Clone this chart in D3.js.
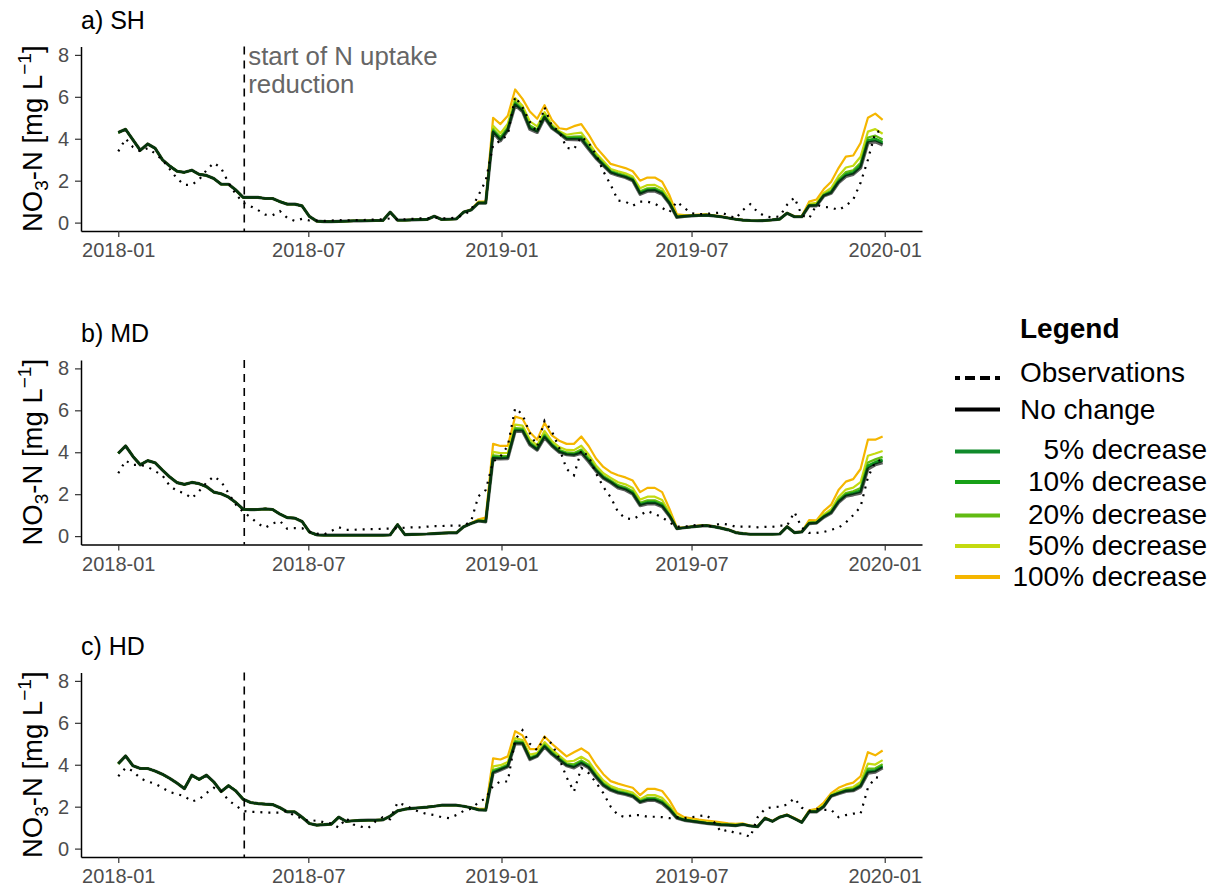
<!DOCTYPE html>
<html><head><meta charset="utf-8">
<script src="https://cdn.jsdelivr.net/npm/d3@7"></script>
<style>body{margin:0;background:#fff} text{font-family:"Liberation Sans",Arial,sans-serif}</style>
</head><body><svg id="chart" width="1212" height="890"></svg>
<script>
// ---- categories / ticks ----
const startDate = new Date(2018, 0, 1);
const weekCount = 105;
const dates = d3.range(weekCount).map(i => d3.timeDay.offset(startDate, 7 * i));
const xTickDates = ["2018-01-01", "2018-07-01", "2019-01-01", "2019-07-01", "2020-01-01"];
const yTickValues = [0, 2, 4, 6, 8];
const reductionStart = "2018-05-01";
const legendLabels = ["Observations", "No change", "5% decrease", "10% decrease", "20% decrease", "50% decrease", "100% decrease"];
const scenarioColors = ["#000000", "#108a2b", "#17a017", "#62bb13", "#c4da10", "#f5b600"];
const panelTitles = ["a) SH", "b) MD", "c) HD"];

// ---- a) SH ----
const shObs = [3.4,4.0,3.6,3.4,3.55,3.3,3.0,2.55,2.1,1.8,1.8,2.05,2.5,2.85,2.6,1.9,1.35,0.95,0.78,0.6,0.38,0.35,0.55,0.22,0.08,0.18,0.1,0.1,0.08,0.1,0.12,0.1,0.12,0.12,0.13,0.15,0.15,0.2,0.15,0.15,0.18,0.2,0.2,0.25,0.2,0.2,0.25,0.35,0.6,1.3,2.0,3.7,3.9,4.2,6.0,5.5,4.8,4.3,5.5,4.6,4.35,3.57,3.5,4.1,3.8,3.25,2.45,1.8,1.05,1.0,0.8,1.0,1.0,0.9,0.7,0.5,1.0,0.7,0.45,0.4,0.42,0.45,0.48,0.35,0.2,0.6,0.88,0.5,0.3,0.25,0.3,0.85,1.2,0.35,0.2,0.85,0.75,0.72,0.6,0.8,1.1,1.9,3.0,4.3,4.4];
const shNoChange = [4.3,4.45,3.95,3.45,3.75,3.55,3.0,2.7,2.45,2.4,2.5,2.3,2.25,2.1,1.83,1.83,1.55,1.2,1.2,1.2,1.15,1.15,1.0,0.88,0.88,0.8,0.3,0.07,0.05,0.05,0.06,0.07,0.08,0.08,0.09,0.1,0.1,0.5,0.12,0.12,0.13,0.14,0.15,0.3,0.15,0.16,0.18,0.5,0.6,0.93,0.93,4.3,3.9,4.4,5.6,5.3,4.45,4.3,5.0,4.5,4.25,3.97,3.96,3.95,3.5,3.07,2.72,2.37,2.25,2.15,2.0,1.35,1.5,1.51,1.35,0.9,0.25,0.3,0.32,0.34,0.36,0.32,0.28,0.22,0.16,0.12,0.1,0.09,0.1,0.13,0.17,0.45,0.28,0.28,0.8,0.8,1.27,1.4,1.9,2.2,2.3,2.6,3.8,3.85,3.7];
const shDec5 = [4.3,4.45,3.95,3.45,3.75,3.55,3.0,2.7,2.45,2.4,2.5,2.3,2.25,2.1,1.83,1.83,1.55,1.2,1.2,1.2,1.15,1.15,1.0,0.88,0.88,0.8,0.3,0.07,0.05,0.05,0.06,0.07,0.08,0.08,0.09,0.1,0.1,0.5,0.12,0.12,0.13,0.14,0.15,0.3,0.15,0.16,0.18,0.5,0.6,0.93,0.93,4.34,3.95,4.44,5.65,5.34,4.5,4.34,5.04,4.52,4.27,4.0,4.0,4.0,3.54,3.1,2.75,2.4,2.28,2.18,2.03,1.39,1.54,1.55,1.39,0.92,0.26,0.3,0.32,0.34,0.36,0.32,0.28,0.22,0.16,0.12,0.1,0.09,0.1,0.13,0.17,0.45,0.28,0.28,0.81,0.82,1.29,1.43,1.94,2.26,2.35,2.67,3.87,3.93,3.77];
const shDec10 = [4.3,4.45,3.95,3.45,3.75,3.55,3.0,2.7,2.45,2.4,2.5,2.3,2.25,2.1,1.83,1.83,1.55,1.2,1.2,1.2,1.15,1.15,1.0,0.88,0.88,0.8,0.3,0.07,0.05,0.05,0.06,0.07,0.08,0.08,0.09,0.1,0.1,0.5,0.12,0.12,0.13,0.14,0.15,0.3,0.15,0.16,0.18,0.5,0.6,0.94,0.94,4.38,4.0,4.48,5.69,5.37,4.55,4.38,5.07,4.55,4.28,4.03,4.04,4.04,3.58,3.13,2.78,2.42,2.3,2.2,2.05,1.43,1.58,1.59,1.42,0.95,0.27,0.31,0.32,0.34,0.36,0.32,0.28,0.22,0.16,0.12,0.1,0.09,0.1,0.13,0.17,0.45,0.28,0.28,0.82,0.84,1.31,1.47,1.98,2.31,2.41,2.74,3.94,4.01,3.84];
const shDec20 = [4.3,4.45,3.95,3.45,3.75,3.55,3.0,2.7,2.45,2.4,2.5,2.3,2.25,2.1,1.83,1.83,1.55,1.2,1.2,1.2,1.15,1.15,1.0,0.88,0.88,0.8,0.3,0.07,0.05,0.05,0.06,0.07,0.08,0.08,0.09,0.1,0.1,0.5,0.12,0.12,0.13,0.14,0.15,0.3,0.15,0.16,0.18,0.5,0.6,0.95,0.95,4.45,4.08,4.55,5.77,5.43,4.64,4.44,5.13,4.59,4.31,4.08,4.1,4.12,3.65,3.19,2.83,2.46,2.35,2.25,2.1,1.49,1.64,1.65,1.48,0.99,0.28,0.31,0.33,0.35,0.37,0.33,0.28,0.22,0.16,0.12,0.1,0.09,0.1,0.13,0.17,0.45,0.28,0.28,0.84,0.87,1.34,1.52,2.05,2.41,2.5,2.86,4.06,4.15,3.96];
const shDec50 = [4.3,4.45,3.95,3.45,3.75,3.55,3.0,2.7,2.45,2.4,2.5,2.3,2.25,2.1,1.83,1.83,1.55,1.2,1.2,1.2,1.15,1.15,1.0,0.88,0.88,0.8,0.3,0.07,0.05,0.05,0.06,0.07,0.08,0.08,0.09,0.1,0.1,0.5,0.12,0.12,0.13,0.14,0.15,0.3,0.15,0.16,0.18,0.5,0.61,0.96,0.96,4.62,4.26,4.72,5.94,5.57,4.83,4.59,5.27,4.68,4.36,4.19,4.25,4.29,3.82,3.31,2.94,2.56,2.45,2.35,2.2,1.64,1.79,1.8,1.62,1.08,0.32,0.33,0.34,0.36,0.38,0.33,0.29,0.22,0.16,0.12,0.1,0.09,0.1,0.13,0.17,0.45,0.29,0.29,0.89,0.94,1.42,1.65,2.22,2.63,2.71,3.14,4.34,4.46,4.24];
const shDec100 = [4.3,4.45,3.95,3.45,3.75,3.55,3.0,2.7,2.45,2.4,2.5,2.3,2.25,2.1,1.83,1.83,1.55,1.2,1.2,1.2,1.15,1.15,1.0,0.88,0.88,0.8,0.3,0.07,0.05,0.05,0.06,0.07,0.08,0.08,0.09,0.1,0.1,0.5,0.12,0.12,0.13,0.14,0.15,0.3,0.15,0.16,0.18,0.5,0.62,1.0,1.0,5.0,4.7,5.1,6.35,5.9,5.3,4.95,5.6,4.9,4.5,4.45,4.6,4.7,4.2,3.6,3.2,2.8,2.7,2.6,2.45,2.0,2.15,2.15,1.95,1.3,0.4,0.36,0.36,0.38,0.4,0.35,0.3,0.23,0.17,0.13,0.1,0.09,0.1,0.13,0.18,0.46,0.3,0.3,1.0,1.1,1.6,1.95,2.6,3.15,3.2,3.8,5.0,5.2,4.9];

// ---- b) MD ----
const mdObs = [3.0,3.6,3.4,3.4,3.3,3.1,2.9,2.4,2.15,2.05,1.8,2.15,2.55,2.85,2.6,2.05,1.5,1.15,0.9,0.6,0.4,0.6,0.72,0.35,0.38,0.38,0.22,0.12,0.08,0.25,0.42,0.3,0.3,0.32,0.33,0.33,0.35,0.36,0.38,0.4,0.42,0.42,0.45,0.48,0.48,0.5,0.5,0.5,0.7,1.9,2.2,3.55,3.8,4.3,6.1,5.8,4.9,4.3,5.5,5.0,4.2,3.2,2.9,4.1,3.8,3.0,2.35,1.85,1.15,0.85,0.8,1.0,1.2,1.05,0.9,0.65,0.45,0.45,0.5,0.55,0.45,0.5,0.6,0.55,0.45,0.45,0.45,0.42,0.44,0.44,0.5,0.5,1.15,0.4,0.15,0.15,0.2,0.3,0.4,0.65,1.0,1.4,2.8,3.55,3.65];
const mdNoChange = [3.95,4.3,3.8,3.4,3.6,3.5,3.15,2.82,2.55,2.47,2.56,2.5,2.36,2.1,2.02,1.86,1.6,1.28,1.26,1.27,1.3,1.27,1.05,0.88,0.86,0.7,0.2,0.06,0.05,0.05,0.05,0.05,0.05,0.05,0.05,0.05,0.05,0.06,0.55,0.07,0.08,0.09,0.1,0.12,0.14,0.15,0.15,0.45,0.6,0.72,0.68,3.7,3.68,3.7,5.0,5.0,4.35,4.1,4.7,4.3,4.0,3.88,3.85,3.95,3.55,3.1,2.75,2.55,2.3,2.2,2.0,1.45,1.54,1.54,1.4,0.95,0.36,0.4,0.44,0.48,0.5,0.45,0.38,0.3,0.17,0.12,0.09,0.09,0.09,0.09,0.1,0.45,0.17,0.2,0.6,0.62,0.9,1.1,1.6,1.9,1.97,2.05,3.2,3.4,3.5];
const mdDec5 = [3.95,4.3,3.8,3.4,3.6,3.5,3.15,2.82,2.55,2.47,2.56,2.5,2.36,2.1,2.02,1.86,1.6,1.28,1.26,1.27,1.3,1.27,1.05,0.88,0.86,0.7,0.2,0.06,0.05,0.05,0.05,0.05,0.05,0.05,0.05,0.05,0.05,0.06,0.55,0.07,0.08,0.09,0.1,0.12,0.14,0.15,0.15,0.45,0.6,0.72,0.69,3.74,3.72,3.74,5.04,5.04,4.39,4.13,4.74,4.33,4.03,3.91,3.88,4.0,3.6,3.14,2.78,2.58,2.34,2.24,2.04,1.49,1.59,1.59,1.44,0.97,0.36,0.4,0.44,0.48,0.5,0.45,0.38,0.3,0.17,0.12,0.09,0.09,0.09,0.09,0.1,0.45,0.17,0.2,0.61,0.63,0.92,1.12,1.64,1.94,2.02,2.12,3.28,3.47,3.58];
const mdDec10 = [3.95,4.3,3.8,3.4,3.6,3.5,3.15,2.82,2.55,2.47,2.56,2.5,2.36,2.1,2.02,1.86,1.6,1.28,1.26,1.27,1.3,1.27,1.05,0.88,0.86,0.7,0.2,0.06,0.05,0.05,0.05,0.05,0.05,0.05,0.05,0.05,0.05,0.06,0.55,0.07,0.08,0.09,0.1,0.12,0.14,0.15,0.15,0.45,0.6,0.73,0.7,3.78,3.75,3.77,5.08,5.07,4.42,4.16,4.78,4.36,4.07,3.94,3.92,4.05,3.64,3.17,2.82,2.61,2.37,2.27,2.08,1.53,1.63,1.63,1.48,0.99,0.36,0.4,0.44,0.48,0.5,0.45,0.38,0.3,0.17,0.12,0.09,0.09,0.09,0.09,0.1,0.45,0.17,0.2,0.62,0.64,0.94,1.15,1.67,1.98,2.06,2.19,3.37,3.54,3.65];
const mdDec20 = [3.95,4.3,3.8,3.4,3.6,3.5,3.15,2.82,2.55,2.47,2.56,2.5,2.36,2.1,2.02,1.86,1.6,1.28,1.26,1.27,1.3,1.27,1.05,0.88,0.86,0.7,0.2,0.06,0.05,0.05,0.05,0.05,0.05,0.05,0.05,0.05,0.05,0.06,0.55,0.07,0.08,0.09,0.1,0.12,0.14,0.15,0.15,0.45,0.6,0.74,0.72,3.85,3.82,3.83,5.15,5.13,4.48,4.21,4.85,4.41,4.12,3.99,3.97,4.13,3.72,3.23,2.87,2.66,2.43,2.33,2.14,1.59,1.71,1.71,1.55,1.03,0.37,0.4,0.44,0.48,0.5,0.45,0.38,0.3,0.17,0.12,0.09,0.09,0.09,0.09,0.1,0.45,0.17,0.2,0.64,0.65,0.97,1.19,1.73,2.05,2.14,2.3,3.51,3.66,3.78];
const mdDec50 = [3.95,4.3,3.8,3.4,3.6,3.5,3.15,2.82,2.55,2.47,2.56,2.5,2.36,2.1,2.02,1.86,1.6,1.28,1.26,1.27,1.3,1.27,1.05,0.88,0.86,0.7,0.2,0.06,0.05,0.05,0.05,0.05,0.05,0.05,0.05,0.05,0.05,0.06,0.55,0.07,0.08,0.09,0.1,0.12,0.14,0.15,0.15,0.45,0.61,0.76,0.77,4.02,3.96,3.97,5.32,5.27,4.62,4.33,5.02,4.53,4.25,4.11,4.1,4.31,3.89,3.37,3.0,2.78,2.57,2.47,2.29,1.74,1.88,1.88,1.72,1.11,0.38,0.41,0.45,0.49,0.51,0.46,0.39,0.3,0.17,0.12,0.09,0.09,0.09,0.09,0.1,0.45,0.17,0.21,0.67,0.68,1.04,1.28,1.87,2.22,2.31,2.57,3.83,3.94,4.06];
const mdDec100 = [3.95,4.3,3.8,3.4,3.6,3.5,3.15,2.82,2.55,2.47,2.56,2.5,2.36,2.1,2.02,1.86,1.6,1.28,1.26,1.27,1.3,1.27,1.05,0.88,0.86,0.7,0.2,0.06,0.05,0.05,0.05,0.05,0.05,0.05,0.05,0.05,0.05,0.06,0.55,0.07,0.08,0.09,0.1,0.12,0.14,0.15,0.15,0.45,0.62,0.8,0.88,4.4,4.3,4.3,5.7,5.6,4.95,4.6,5.4,4.8,4.55,4.4,4.4,4.75,4.3,3.7,3.3,3.05,2.9,2.8,2.65,2.1,2.3,2.3,2.1,1.3,0.4,0.42,0.46,0.5,0.52,0.47,0.4,0.31,0.18,0.12,0.1,0.1,0.1,0.1,0.1,0.46,0.18,0.22,0.76,0.75,1.2,1.5,2.2,2.6,2.72,3.2,4.6,4.6,4.75];

// ---- c) HD ----
const hdObs = [3.45,3.85,3.7,3.35,3.2,3.1,2.9,2.7,2.6,2.5,2.25,2.35,2.65,2.9,2.75,2.3,2.05,1.8,1.75,1.75,1.72,1.72,1.72,1.8,1.55,1.45,1.3,1.35,1.25,1.2,1.0,1.45,1.15,1.05,0.98,1.3,1.5,1.4,2.2,2.07,1.9,1.75,1.65,1.6,1.5,1.45,1.6,1.8,1.9,2.2,2.4,3.0,3.2,3.2,5.2,5.65,5.0,4.7,5.3,5.0,4.3,3.4,2.72,3.85,3.6,3.15,2.65,2.0,1.6,1.5,1.6,1.6,1.52,1.52,1.5,1.45,1.5,1.45,1.5,1.55,1.6,1.3,0.8,0.9,0.72,0.72,0.55,1.5,1.9,1.98,2.0,2.1,2.4,1.95,1.8,1.9,1.85,1.85,1.5,1.6,1.67,1.67,2.9,3.4,3.35];
const hdNoChange = [4.05,4.42,3.95,3.82,3.82,3.7,3.55,3.35,3.12,2.86,3.5,3.3,3.5,3.18,2.72,3.0,2.75,2.35,2.2,2.15,2.12,2.1,1.95,1.75,1.75,1.5,1.2,1.12,1.14,1.17,1.5,1.3,1.33,1.35,1.36,1.36,1.37,1.55,1.8,1.88,1.92,1.95,1.98,2.02,2.07,2.07,2.07,2.02,1.95,1.85,1.83,3.6,3.75,3.9,5.0,5.0,4.25,4.4,4.85,4.5,4.22,3.95,3.85,4.05,3.85,3.4,3.0,2.78,2.65,2.58,2.48,2.2,2.3,2.3,2.15,1.85,1.45,1.35,1.3,1.25,1.2,1.17,1.13,1.12,1.1,1.15,1.08,1.05,1.45,1.3,1.5,1.6,1.43,1.25,1.75,1.75,2.0,2.5,2.62,2.73,2.76,2.95,3.6,3.65,3.85];
const hdDec5 = [4.05,4.42,3.95,3.82,3.82,3.7,3.55,3.35,3.12,2.86,3.5,3.3,3.5,3.18,2.72,3.0,2.75,2.35,2.2,2.15,2.12,2.1,1.95,1.75,1.75,1.5,1.2,1.12,1.14,1.17,1.5,1.3,1.33,1.35,1.36,1.36,1.37,1.55,1.8,1.88,1.92,1.95,1.98,2.02,2.07,2.07,2.07,2.02,1.95,1.85,1.83,3.64,3.78,3.93,5.04,5.02,4.28,4.42,4.88,4.53,4.25,3.98,3.9,4.09,3.89,3.44,3.03,2.81,2.68,2.61,2.51,2.22,2.33,2.33,2.19,1.88,1.47,1.36,1.31,1.26,1.21,1.18,1.14,1.12,1.1,1.15,1.08,1.05,1.45,1.3,1.5,1.6,1.43,1.25,1.75,1.76,2.01,2.51,2.64,2.75,2.78,2.98,3.66,3.7,3.9];
const hdDec10 = [4.05,4.42,3.95,3.82,3.82,3.7,3.55,3.35,3.12,2.86,3.5,3.3,3.5,3.18,2.72,3.0,2.75,2.35,2.2,2.15,2.12,2.1,1.95,1.75,1.75,1.5,1.2,1.12,1.14,1.17,1.5,1.3,1.33,1.35,1.36,1.36,1.37,1.55,1.8,1.88,1.92,1.95,1.98,2.02,2.07,2.07,2.07,2.02,1.95,1.86,1.84,3.68,3.81,3.96,5.07,5.05,4.31,4.44,4.91,4.56,4.28,4.0,3.94,4.14,3.93,3.47,3.07,2.83,2.7,2.63,2.53,2.24,2.37,2.37,2.22,1.9,1.48,1.37,1.32,1.27,1.22,1.19,1.14,1.13,1.11,1.16,1.08,1.05,1.45,1.3,1.5,1.6,1.43,1.25,1.76,1.77,2.02,2.52,2.65,2.77,2.81,3.01,3.72,3.75,3.95];
const hdDec20 = [4.05,4.42,3.95,3.82,3.82,3.7,3.55,3.35,3.12,2.86,3.5,3.3,3.5,3.18,2.72,3.0,2.75,2.35,2.2,2.15,2.12,2.1,1.95,1.75,1.75,1.5,1.2,1.12,1.14,1.17,1.5,1.3,1.33,1.35,1.36,1.36,1.37,1.55,1.8,1.88,1.92,1.95,1.98,2.02,2.07,2.07,2.07,2.02,1.95,1.86,1.85,3.75,3.86,4.01,5.13,5.09,4.36,4.48,4.96,4.61,4.33,4.05,4.02,4.21,4.0,3.53,3.12,2.88,2.75,2.67,2.57,2.28,2.42,2.42,2.28,1.95,1.51,1.38,1.33,1.28,1.23,1.2,1.16,1.14,1.12,1.16,1.08,1.05,1.45,1.3,1.5,1.6,1.44,1.26,1.77,1.78,2.04,2.53,2.68,2.8,2.85,3.06,3.82,3.83,4.03];
const hdDec50 = [4.05,4.42,3.95,3.82,3.82,3.7,3.55,3.35,3.12,2.86,3.5,3.3,3.5,3.18,2.72,3.0,2.75,2.35,2.2,2.15,2.12,2.1,1.95,1.75,1.75,1.5,1.2,1.12,1.14,1.17,1.5,1.3,1.33,1.35,1.36,1.36,1.37,1.55,1.8,1.88,1.92,1.95,1.98,2.02,2.07,2.07,2.07,2.02,1.95,1.87,1.86,3.92,3.98,4.13,5.27,5.18,4.48,4.56,5.08,4.73,4.44,4.15,4.19,4.38,4.17,3.67,3.25,2.98,2.85,2.77,2.67,2.36,2.55,2.55,2.42,2.05,1.56,1.42,1.36,1.31,1.26,1.23,1.18,1.16,1.14,1.17,1.09,1.06,1.46,1.31,1.51,1.61,1.44,1.26,1.79,1.82,2.09,2.57,2.75,2.87,2.94,3.18,4.05,4.01,4.22];
const hdDec100 = [4.05,4.42,3.95,3.82,3.82,3.7,3.55,3.35,3.12,2.86,3.5,3.3,3.5,3.18,2.72,3.0,2.75,2.35,2.2,2.15,2.12,2.1,1.95,1.75,1.75,1.5,1.2,1.12,1.14,1.17,1.5,1.3,1.33,1.35,1.36,1.36,1.37,1.55,1.8,1.88,1.92,1.95,1.98,2.02,2.07,2.07,2.07,2.02,1.96,1.9,1.9,4.3,4.25,4.4,5.6,5.4,4.75,4.75,5.35,5.0,4.7,4.4,4.6,4.78,4.55,4.0,3.55,3.22,3.1,3.0,2.9,2.55,2.85,2.85,2.75,2.3,1.7,1.5,1.44,1.38,1.34,1.3,1.25,1.2,1.18,1.2,1.1,1.07,1.47,1.32,1.52,1.62,1.46,1.28,1.83,1.9,2.2,2.65,2.9,3.05,3.15,3.45,4.6,4.45,4.68];

// ---- layout ----
const W = 1212, H = 890;
const plotLeft = 81, plotRight = 922;
const panelBoxes = [{top: 46.5, bottom: 231}, {top: 360, bottom: 544.5}, {top: 672.5, bottom: 857}];
const panelData = [
  {obs: shObs, series: [shNoChange, shDec5, shDec10, shDec20, shDec50, shDec100]},
  {obs: mdObs, series: [mdNoChange, mdDec5, mdDec10, mdDec20, mdDec50, mdDec100]},
  {obs: hdObs, series: [hdNoChange, hdDec5, hdDec10, hdDec20, hdDec50, hdDec100]}
];

const svg = d3.select("#chart");
svg.append("rect").attr("width", W).attr("height", H).attr("fill", "#fff");

const parse = d3.timeParse("%Y-%m-%d");
const dStart = parse("2018-01-01"), dEnd = parse("2020-01-01");
const x = d3.scaleTime()
  .domain([d3.timeHour.offset(dStart, -35.5 * 24), d3.timeHour.offset(dEnd, 35.5 * 24)])
  .range([plotLeft, plotRight]);

panelData.forEach((pd, pi) => {
  const box = panelBoxes[pi];
  const y = d3.scaleLinear().domain([-0.4, 8.4]).range([box.bottom, box.top]);
  const g = svg.append("g");

  // title
  g.append("text").attr("x", plotLeft).attr("y", box.top - 18)
    .attr("font-size", 25).attr("fill", "#000").text(panelTitles[pi]);

  // y-axis title
  const t = g.append("text")
    .attr("transform", `translate(42,${(box.top + box.bottom) / 2}) rotate(-90)`)
    .attr("text-anchor", "middle").attr("font-size", 27.5).attr("fill", "#000");
  t.append("tspan").text("NO");
  t.append("tspan").attr("font-size", 19).attr("dy", 6).text("3");
  t.append("tspan").attr("dy", -6).text("-N [mg L");
  t.append("tspan").attr("font-size", 19).attr("dy", -11).text("\u22121");
  t.append("tspan").attr("dy", 11).text("]");

  // lines
  const line = d3.line().x((d, i) => x(dates[i])).y(d => y(d));
  const order = [5, 4, 3, 2, 1];
  order.forEach(si => {
    g.append("path").datum(pd.series[si]).attr("d", line)
      .attr("fill", "none").attr("stroke", scenarioColors[si])
      .attr("stroke-width", 2.2).attr("stroke-linejoin", "round");
  });
  g.append("path").datum(pd.series[0]).attr("d", line)
    .attr("fill", "none").attr("stroke", "#000").attr("stroke-opacity", 0.62)
    .attr("stroke-width", 3.2).attr("stroke-linejoin", "round");
  g.append("path").datum(pd.obs).attr("d", line)
    .attr("fill", "none").attr("stroke", "#000").attr("stroke-width", 2.2)
    .attr("stroke-dasharray", "2,6");

  // vertical dashed line
  const xr = x(parse(reductionStart));
  g.append("line").attr("x1", xr).attr("x2", xr).attr("y1", box.top).attr("y2", box.bottom)
    .attr("stroke", "#000").attr("stroke-width", 1.6).attr("stroke-dasharray", "8,6");

  // axes
  const xAxis = d3.axisBottom(x).tickValues(xTickDates.map(parse))
    .tickFormat(d3.timeFormat("%Y-%m")).tickSize(6).tickSizeOuter(0).tickPadding(6);
  const gx = g.append("g").attr("transform", `translate(0,${box.bottom})`).call(xAxis);
  const yAxis = d3.axisLeft(y).tickValues(yTickValues).tickSize(6).tickSizeOuter(0).tickPadding(6);
  const gy = g.append("g").attr("transform", `translate(${plotLeft},0)`).call(yAxis);
  [gx, gy].forEach(ax => {
    ax.select(".domain").attr("stroke", "#000").attr("stroke-width", 1.5);
    ax.selectAll(".tick line").attr("stroke", "#333").attr("stroke-width", 1.2);
    ax.selectAll(".tick text").attr("font-size", 20).attr("fill", "#4d4d4d")
      .attr("font-family", '"Liberation Sans",Arial,sans-serif');
  });

  if (pi === 0) {
    g.append("text").attr("x", xr + 4).attr("y", 64.5).attr("font-size", 25.8).attr("fill", "#666")
      .text("start of N uptake");
    g.append("text").attr("x", xr + 4).attr("y", 92.5).attr("font-size", 25.8).attr("fill", "#666")
      .text("reduction");
  }
});

// legend
const lg = svg.append("g");
lg.append("text").attr("x", 1020).attr("y", 338).attr("font-size", 28).attr("font-weight", "bold")
  .text("Legend");
const keyY = [378, 409.5, 451.5, 482, 515.5, 546, 577];
const textY = [382, 419, 459, 490.5, 523.5, 554.5, 586];
legendLabels.forEach((lab, i) => {
  const ln = lg.append("line").attr("x1", 955).attr("x2", 1000).attr("y1", keyY[i]).attr("y2", keyY[i])
    .attr("stroke-width", 4);
  if (i === 0) {
    ln.attr("stroke", "#000").attr("stroke-dasharray", "10,5").attr("stroke-dashoffset", 5);
  } else {
    ln.attr("stroke", scenarioColors[i - 1]);
  }
  const tx = lg.append("text").attr("y", textY[i]).attr("font-size", 28).attr("fill", "#000").text(lab);
  if (i < 2) tx.attr("x", 1020); else tx.attr("x", 1207).attr("text-anchor", "end");
});
</script></body></html>
